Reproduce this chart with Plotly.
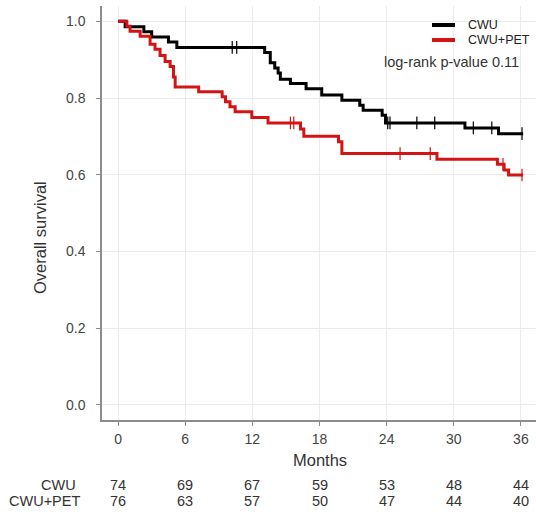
import numpy as np
import plotly.graph_objects as go

# ---- data ----
cwu_time = [0, 0.63, 2.3, 3.0, 4.5, 5.25, 13.1, 13.6, 14.0, 14.3, 14.5, 15.4, 16.8,
            18.2, 20.0, 21.6, 21.9, 23.6, 23.9, 31.0, 34.0, 36.2]
cwu_surv = [1.0, 0.986, 0.973, 0.959, 0.946, 0.932, 0.919, 0.892, 0.878, 0.865, 0.849, 0.838, 0.824,
            0.808, 0.794, 0.781, 0.768, 0.755, 0.735, 0.722, 0.707, 0.707]
cwu_censor = [10.2, 10.6, 24.1, 24.3, 26.7, 28.3, 31.75, 33.4, 36.1]

pet_time = [0, 0.78, 1.07, 1.97, 2.86, 3.3, 3.75, 4.2, 4.65, 4.95, 5.1, 7.2, 9.3, 9.6, 10.0,
            10.46, 11.95, 13.4, 16.3, 16.6, 19.7, 20.0, 28.5, 33.9, 34.5, 34.9, 36.2]
pet_surv = [1.0, 0.987, 0.974, 0.961, 0.940, 0.927, 0.911, 0.895, 0.882, 0.855, 0.829, 0.816, 0.803,
            0.790, 0.777, 0.764, 0.749, 0.735, 0.719, 0.700, 0.686, 0.655, 0.640, 0.627, 0.612, 0.599, 0.599]
pet_censor = [15.4, 15.7, 25.2, 27.9, 34.4, 36.1]

risk_months = [0, 6, 12, 18, 24, 30, 36]
cwu_risk = [74, 69, 67, 59, 53, 48, 44]
pet_risk = [76, 63, 57, 50, 47, 44, 40]

group_names = ["CWU", "CWU+PET"]
group_colors = ["#000000", "#d41414"]
p_text = "log-rank p-value 0.11"


def surv_at(times, surv, t):
    idx = np.searchsorted(np.asarray(times), t, side="right") - 1
    return [surv[i] for i in idx]


FONT = "Liberation Sans, Arial, sans-serif"
W, H = 536, 515
L, R, T, B = 102, 0, 6, 95
pw, ph = W - L - R, H - T - B


def px_x(x):
    return (x - L) / pw


def px_y(y):
    return (H - B - y) / ph


fig = go.Figure()
for times, surv, cens, name, col in [
    (cwu_time, cwu_surv, cwu_censor, group_names[0], group_colors[0]),
    (pet_time, pet_surv, pet_censor, group_names[1], group_colors[1]),
]:
    fig.add_trace(go.Scatter(x=times, y=surv, mode="lines", line=dict(color=col, width=3, shape="hv"),
                             name=name, showlegend=False, hoverinfo="skip"))
    fig.add_trace(go.Scatter(x=cens, y=surv_at(times, surv, cens), mode="markers",
                             marker=dict(symbol="line-ns-open", size=9, color=col,
                                         line=dict(color=col, width=1.2)),
                             showlegend=False, hoverinfo="skip"))

annotations = []
# legend (manual)
for i, (name, col) in enumerate(zip(group_names, group_colors)):
    yy = 25 + 15 * i
    fig.add_shape(type="line", xref="paper", yref="paper", x0=px_x(432), x1=px_x(455),
                  y0=px_y(yy), y1=px_y(yy), line=dict(color=col, width=4))
    annotations.append(dict(xref="paper", yref="paper", x=px_x(466), y=px_y(yy), text=name,
                            showarrow=False, xanchor="left", yanchor="middle",
                            font=dict(family=FONT, size=12.5, color="#222")))
annotations.append(dict(xref="paper", yref="paper", x=px_x(521), y=px_y(62), text=p_text,
                        showarrow=False, xanchor="right", yanchor="middle",
                        font=dict(family=FONT, size=14.5, color="#333")))
# axis titles
annotations.append(dict(xref="paper", yref="paper", x=px_x(40), y=px_y(238), text="Overall survival",
                        textangle=-90, showarrow=False, xanchor="center", yanchor="middle",
                        font=dict(family=FONT, size=16.5, color="#333")))
annotations.append(dict(xref="paper", yref="paper", x=px_x(320), y=px_y(460), text="Months",
                        showarrow=False, xanchor="center", yanchor="middle",
                        font=dict(family=FONT, size=16.5, color="#333")))
# risk table
for name, risk, yy, xr in [(group_names[0], cwu_risk, 485, 78), (group_names[1], pet_risk, 501, 82)]:
    annotations.append(dict(xref="paper", yref="paper", x=px_x(xr), y=px_y(yy), text=name,
                            showarrow=False, xanchor="right", yanchor="middle",
                            font=dict(family=FONT, size=14.5, color="#333")))
    for m, n in zip(risk_months, risk):
        annotations.append(dict(xref="x", yref="paper", x=m, y=px_y(yy), text=str(n),
                                showarrow=False, xanchor="center", yanchor="middle",
                                font=dict(family=FONT, size=14.5, color="#333")))

fig.update_layout(
    width=W, height=H, margin=dict(l=L, r=R, t=T, b=B),
    paper_bgcolor="white", plot_bgcolor="white",
    annotations=annotations,
    xaxis=dict(range=[-1.44, 37.35], tickvals=risk_months, ticktext=[str(m) for m in risk_months],
               showgrid=True, gridcolor="#ebebeb", gridwidth=1, zeroline=False,
               showline=True, linecolor="#8c8c8c", linewidth=1.5,
               ticks="outside", ticklen=4, tickcolor="#8c8c8c", tickwidth=1,
               ticklabelstandoff=1,
               tickfont=dict(family=FONT, size=14, color="#444")),
    yaxis=dict(range=[-0.04, 1.04], tickvals=[0, 0.2, 0.4, 0.6, 0.8, 1.0],
               ticktext=["0.0", "0.2", "0.4", "0.6", "0.8", "1.0"],
               showgrid=True, gridcolor="#ebebeb", gridwidth=1, zeroline=False,
               showline=True, linecolor="#8c8c8c", linewidth=1.5,
               ticks="outside", ticklen=4, tickcolor="#8c8c8c", tickwidth=1,
               ticklabelstandoff=8,
               tickfont=dict(family=FONT, size=14, color="#444")),
)

fig.write_html("out.html", config={"displayModeBar": False},
               post_script="document.body.style.margin='0';document.body.style.overflow='hidden';")
